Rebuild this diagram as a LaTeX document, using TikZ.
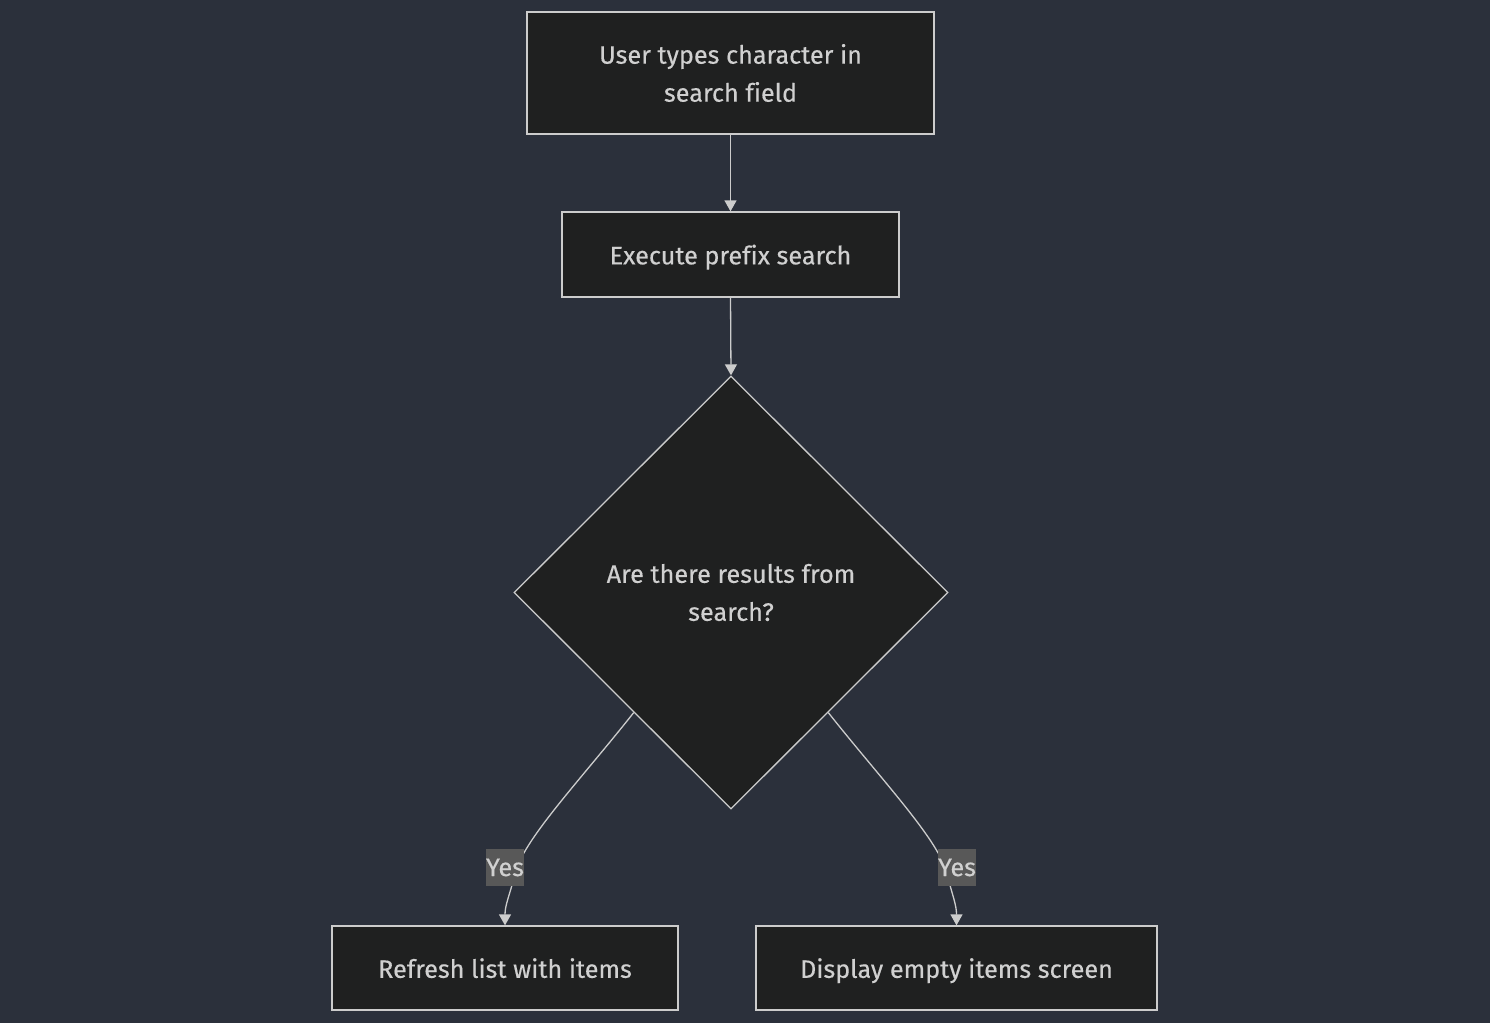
\documentclass[tikz,border=0pt]{standalone}
\usepackage{fontspec}
\setmainfont[Ligatures=NoCommon, FakeBold=0.35]{Fira Sans}
\usetikzlibrary{shapes.geometric,arrows.meta,calc}
\definecolor{bg}{HTML}{2B303B}
\definecolor{nodefill}{HTML}{1F2020}
\definecolor{linecol}{HTML}{CCCCCC}
\definecolor{txt}{HTML}{D0D0D0}
\definecolor{lblbg}{HTML}{585858}
\newcommand{\flowfont}{\fontsize{25.2}{38}\selectfont}
\begin{document}
\begin{tikzpicture}[x=1pt,y=-1pt,
  box/.style={draw=linecol, fill=nodefill, line width=1.3pt, text=txt,
    inner sep=0pt, align=center, font=\flowfont},
  oneline/.style={text depth=0pt},
  decision/.style={diamond, draw=linecol, fill=nodefill, line width=1.3pt,
    text=txt, inner sep=0pt, align=center, font=\flowfont,
    minimum width=434pt, minimum height=433pt},
  flow/.style={draw=linecol, line width=1.3pt,
    -{Triangle[width=12pt,length=11pt]}},
  edgelabel/.style={fill=lblbg, text=txt, font=\flowfont, inner xsep=0.5pt,
    inner ysep=0pt, minimum height=37pt}]
  % canvas
  \fill[bg] (0,0) rectangle (1490,1023);
  \useasboundingbox (0,0) rectangle (1490,1023);

  % nodes
  \node[box, minimum width=407pt, minimum height=122pt] (typed) at (730.5,73)
    {User types character in\\search field};
  \node[box, oneline, minimum width=337pt, minimum height=85pt] (search)
    at (730.5,254.5) {Execute prefix search};
  \node[decision] (results) at (731,592.5) {Are there results from\\search?};
  \node[box, oneline, minimum width=346pt, minimum height=84pt] (refresh)
    at (505,968) {Refresh list with items};
  \node[box, oneline, minimum width=401pt, minimum height=84pt] (empty)
    at (956.5,968) {Display empty items screen};

  % exits on the lower sides of the decision
  \coordinate (leftexit) at ($(results.west)!0.553!(results.south)$);
  \coordinate (rightexit) at ($(results.east)!0.553!(results.south)$);

  % connectors
  \draw[flow] (typed.south) -- (search.north);
  \draw[flow] (search.south) -- (results.north);
  \draw[flow] (leftexit) .. controls (582,778) and (525,838) .. (516,871)
    .. controls (509,897) and (505,905) .. (refresh.north);
  \draw[flow] (rightexit) .. controls (880,778) and (937,838) .. (946,871)
    .. controls (953,897) and (956.5,905) .. (empty.north);

  % branch labels
  \node[edgelabel] (yesleft) at (505,867.5) {Yes};
  \node[edgelabel] (yesright) at (957,867.5) {Yes};
\end{tikzpicture}
\end{document}
